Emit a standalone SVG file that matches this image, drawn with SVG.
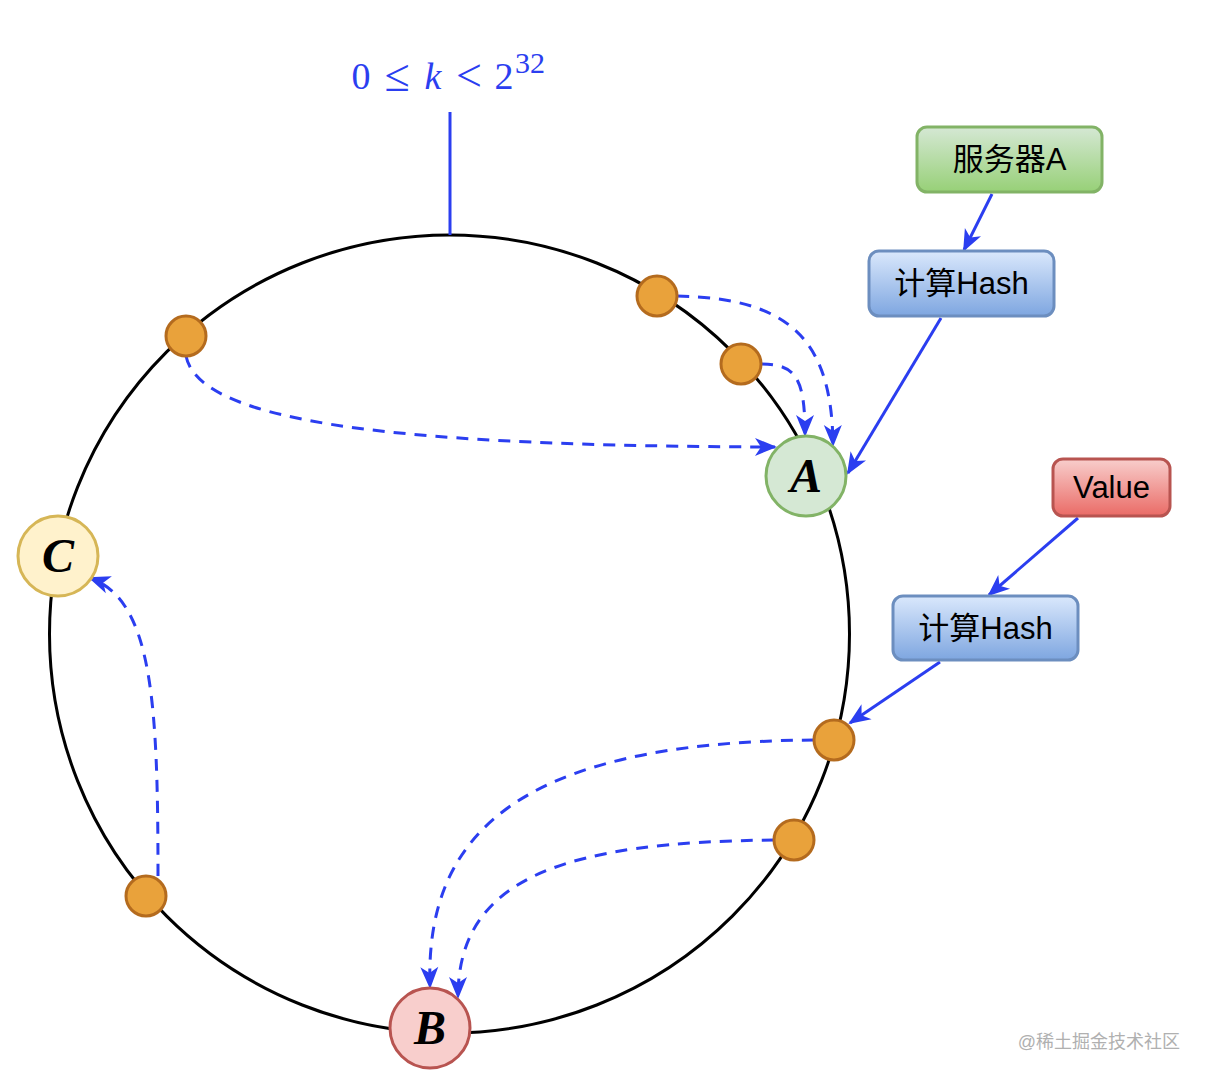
<svg xmlns="http://www.w3.org/2000/svg" width="1208" height="1080" viewBox="0 0 1208 1080">
<defs>
<linearGradient id="gGreen" x1="0" y1="0" x2="0" y2="1"><stop offset="0" stop-color="#d5e8d4"/><stop offset="1" stop-color="#97d077"/></linearGradient>
<linearGradient id="gBlue" x1="0" y1="0" x2="0" y2="1"><stop offset="0" stop-color="#dae8fc"/><stop offset="1" stop-color="#7ea6e0"/></linearGradient>
<linearGradient id="gRed" x1="0" y1="0" x2="0" y2="1"><stop offset="0" stop-color="#f8cecc"/><stop offset="1" stop-color="#ea6b66"/></linearGradient>
<marker id="arr" viewBox="0 0 22 18" refX="20" refY="9" markerWidth="22" markerHeight="18" markerUnits="userSpaceOnUse" orient="auto" overflow="visible">
<path d="M0,0 L22,9 L0,18 L6,9 z" fill="#2b3ef0"/>
</marker>
</defs>
<style>
.ring{fill:none;stroke:#000;stroke-width:3}
.dot{fill:#e9a23b;stroke:#b46b1e;stroke-width:3}
.solid{fill:none;stroke:#2b3ef0;stroke-width:3}
.dash{fill:none;stroke:#2b3ef0;stroke-width:3;stroke-dasharray:12 9}
.box{stroke-width:3}
.lbl{font-family:"Liberation Sans","Noto Sans CJK SC",sans-serif;font-size:31px;fill:#000;text-anchor:middle}
.big{font-family:"Liberation Serif",serif;font-weight:bold;font-style:italic;font-size:48px;fill:#000;text-anchor:middle}
.math{font-family:"Liberation Serif",serif;font-size:38px;fill:#2b3ef0;text-anchor:middle}
.op{font-size:46px}
.sup{font-size:30px}
</style>
<rect width="1208" height="1080" fill="#fff"/>
<g id="ring">
<ellipse class="ring" cx="449.5" cy="634" rx="400" ry="399"/>
<line x1="450" y1="112" x2="450" y2="235" stroke="#2b3ef0" stroke-width="3"/>
</g>
<g id="range-label">
<text class="math" x="361" y="89">0</text>
<text class="math op" x="397" y="91">≤</text>
<text class="math" x="433" y="89" font-style="italic">k</text>
<text class="math op" x="469" y="91">&lt;</text>
<text class="math" x="504" y="89">2</text>
<text class="math sup" x="530" y="73">32</text>
</g>
<g id="connectors">
<line class="solid" x1="992" y1="194" x2="964" y2="250" marker-end="url(#arr)"/>
<line class="solid" x1="941" y1="318" x2="848" y2="473" marker-end="url(#arr)"/>
<line class="solid" x1="1078" y1="518" x2="989" y2="595" marker-end="url(#arr)"/>
<line class="solid" x1="940" y1="662" x2="850" y2="723" marker-end="url(#arr)"/>
<path class="dash" d="M677,296 C790,298 832,340 833,445" marker-end="url(#arr)"/>
<path class="dash" d="M761,364 C796,364 805,378 805,435" marker-end="url(#arr)"/>
<path class="dash" d="M186,356 C200,425 410,446 775,447" marker-end="url(#arr)"/>
<path class="dash" d="M814,740 C510,742 425,840 430,987" marker-end="url(#arr)"/>
<path class="dash" d="M774,840 C570,842 458,875 458,997" marker-end="url(#arr)"/>
<path class="dash" d="M158,876 C158,700 152,600 90,578" marker-end="url(#arr)"/>
</g>
<g id="dot1"><circle class="dot" cx="657" cy="296" r="20"/></g>
<g id="dot2"><circle class="dot" cx="741" cy="364" r="20"/></g>
<g id="dot3"><circle class="dot" cx="186" cy="336" r="20"/></g>
<g id="dot4"><circle class="dot" cx="834" cy="740" r="20"/></g>
<g id="dot5"><circle class="dot" cx="794" cy="840" r="20"/></g>
<g id="dot6"><circle class="dot" cx="146" cy="896" r="20"/></g>
<g id="nodeA"><circle cx="806" cy="476" r="40" fill="#d5e8d4" stroke="#82b366" stroke-width="3"/><text class="big" x="806" y="492">A</text></g>
<g id="nodeB"><circle cx="430" cy="1028" r="40" fill="#f8cecc" stroke="#b85450" stroke-width="3"/><text class="big" x="430" y="1044">B</text></g>
<g id="nodeC"><circle cx="58" cy="556" r="40" fill="#fff2cc" stroke="#d6b656" stroke-width="3"/><text class="big" x="58" y="572">C</text></g>
<g id="serverA"><rect class="box" x="917" y="127" width="185" height="65" rx="10" fill="url(#gGreen)" stroke="#82b366"/><text class="lbl" x="1009.5" y="170">服务器A</text></g>
<g id="hash1"><rect class="box" x="869" y="251" width="185" height="65" rx="10" fill="url(#gBlue)" stroke="#6c8ebf"/><text class="lbl" x="961.5" y="294">计算Hash</text></g>
<g id="value"><rect class="box" x="1053" y="459" width="117" height="57" rx="10" fill="url(#gRed)" stroke="#b85450"/><text class="lbl" x="1111.5" y="498">Value</text></g>
<g id="hash2"><rect class="box" x="893" y="596" width="185" height="64" rx="10" fill="url(#gBlue)" stroke="#6c8ebf"/><text class="lbl" x="985.5" y="639">计算Hash</text></g>
<text x="1180" y="1048" text-anchor="end" font-family="'Liberation Sans','Noto Sans CJK SC',sans-serif" font-size="18" fill="#b0b0b0">@稀土掘金技术社区</text>
</svg>
